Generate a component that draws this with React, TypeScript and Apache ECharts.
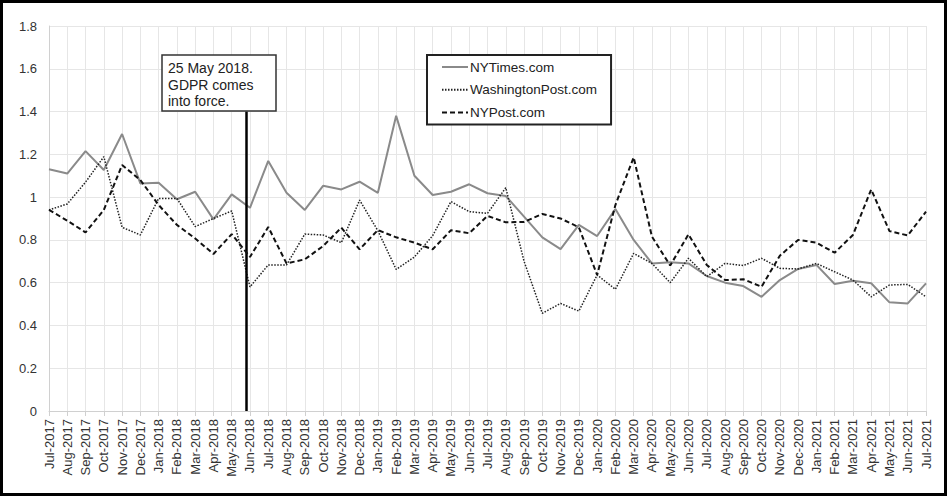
import React, { useEffect, useRef } from "react";
import * as echarts from "echarts";

const months = [
  "Jul-2017","Aug-2017","Sep-2017","Oct-2017","Nov-2017","Dec-2017",
  "Jan-2018","Feb-2018","Mar-2018","Apr-2018","May-2018","Jun-2018","Jul-2018","Aug-2018","Sep-2018","Oct-2018","Nov-2018","Dec-2018",
  "Jan-2019","Feb-2019","Mar-2019","Apr-2019","May-2019","Jun-2019","Jul-2019","Aug-2019","Sep-2019","Oct-2019","Nov-2019","Dec-2019",
  "Jan-2020","Feb-2020","Mar-2020","Apr-2020","May-2020","Jun-2020","Jul-2020","Aug-2020","Sep-2020","Oct-2020","Nov-2020","Dec-2020",
  "Jan-2021","Feb-2021","Mar-2021","Apr-2021","May-2021","Jun-2021","Jul-2021",
];

const nyTimes = [
  1.13, 1.11, 1.215, 1.127, 1.295, 1.064,
  1.067, 0.99, 1.025, 0.896, 1.013, 0.95, 1.169, 1.02, 0.94, 1.053, 1.036, 1.072,
  1.02, 1.38, 1.10, 1.01, 1.025, 1.06, 1.018, 1.005, 0.909, 0.812, 0.757, 0.87,
  0.818, 0.944, 0.80, 0.69, 0.695, 0.69, 0.631, 0.60, 0.584, 0.534, 0.612, 0.664,
  0.683, 0.594, 0.609, 0.597, 0.508, 0.503, 0.597,
];

const washingtonPost = [
  0.94, 0.968, 1.07, 1.189, 0.859, 0.823,
  0.994, 0.994, 0.862, 0.90, 0.935, 0.58, 0.683, 0.683, 0.827, 0.823, 0.787, 0.986,
  0.843, 0.662, 0.72, 0.82, 0.979, 0.932, 0.924, 1.044, 0.70, 0.457, 0.503, 0.467,
  0.636, 0.569, 0.737, 0.69, 0.60, 0.714, 0.628, 0.69, 0.68, 0.714, 0.667, 0.664,
  0.69, 0.651, 0.612, 0.534, 0.589, 0.592, 0.534,
];

const nyPost = [
  0.94, 0.89, 0.835, 0.94, 1.15, 1.08,
  0.963, 0.87, 0.807, 0.734, 0.827, 0.72, 0.86, 0.69, 0.709, 0.771, 0.857, 0.756,
  0.846, 0.812, 0.787, 0.756, 0.845, 0.831, 0.912, 0.882, 0.884, 0.921, 0.90, 0.859,
  0.636, 0.963, 1.186, 0.815, 0.68, 0.826, 0.683, 0.612, 0.616, 0.581, 0.726, 0.80,
  0.787, 0.74, 0.823, 1.036, 0.841, 0.821, 0.932,
];

const seriesNames = ["NYTimes.com", "WashingtonPost.com", "NYPost.com"];
const annotationLines = ["25 May 2018.", "GDPR comes", "into force."];
// 25 May 2018: May-2018 is index 10, plus fraction of month
const gdprIndex = 10 + 24 / 31;
const gdprLineTop = 1.4;

const FONT = "Liberation Sans, Arial, sans-serif";

export default function App() {
  const ref = useRef<HTMLDivElement>(null);
  useEffect(() => {
    document.body.style.margin = "0";
    const chart = echarts.init(ref.current!, null, { renderer: "svg" });
    const boxX = 162, boxY = 55, boxW = 114, boxH = 56;
    chart.setOption({
      animation: false,
      backgroundColor: "#ffffff",
      textStyle: { fontFamily: FONT },
      grid: { left: 49, right: 22, top: 26, bottom: 86 },
      legend: {
        data: seriesNames,
        orient: "vertical",
        left: 427,
        top: 55,
        padding: [5, 14, 5, 14],
        itemWidth: 26,
        itemHeight: 14,
        itemGap: 8.7,
        borderColor: "#222",
        borderWidth: 2,
        backgroundColor: "#fff",
        itemStyle: { opacity: 0, borderWidth: 0 },
        textStyle: { fontSize: 13.5, color: "#222", fontFamily: FONT, padding: [0, 0, 0, -3] },
      },
      xAxis: [
        {
          type: "category",
          data: months,
          boundaryGap: false,
          axisLine: { show: true, lineStyle: { color: "#d0d0d0", width: 1 } },
          axisTick: { show: true, interval: 0, length: 5, lineStyle: { color: "#d0d0d0" } },
          axisLabel: { interval: 0, rotate: 90, fontSize: 13, color: "#333", margin: 8, fontFamily: FONT },
          splitLine: { show: true, interval: 0, lineStyle: { color: "#e6e6e6", width: 1 } },
        },
        {
          type: "value",
          min: 0,
          max: months.length - 1,
          show: false,
        },
      ],
      yAxis: {
        type: "value",
        min: 0,
        max: 1.8,
        interval: 0.2,
        axisLine: { show: true, lineStyle: { color: "#d0d0d0" } },
        axisTick: { show: false },
        axisLabel: { fontSize: 13, color: "#333", margin: 12, fontFamily: FONT },
        splitLine: { show: true, lineStyle: { color: "#e6e6e6", width: 1 } },
      },
      series: [
        {
          name: seriesNames[0],
          type: "line",
          data: nyTimes,
          symbol: "none",
          lineStyle: { color: "#8a8a8a", width: 2, type: "solid" },
          itemStyle: { color: "#8a8a8a" },
          z: 3,
        },
        {
          name: seriesNames[1],
          type: "line",
          data: washingtonPost,
          symbol: "none",
          lineStyle: { color: "#222", width: 1.5, type: [1.5, 1.5] },
          itemStyle: { color: "#222" },
          z: 4,
        },
        {
          name: seriesNames[2],
          type: "line",
          data: nyPost,
          symbol: "none",
          lineStyle: { color: "#111", width: 2, type: [5, 3] },
          itemStyle: { color: "#111" },
          z: 5,
        },
        {
          name: "gdpr",
          type: "line",
          xAxisIndex: 1,
          data: [[gdprIndex, 0]],
          symbol: "none",
          lineStyle: { opacity: 0 },
          silent: true,
          markLine: {
            silent: true,
            symbol: "none",
            label: { show: false },
            lineStyle: { color: "#000", width: 2.5, type: "solid" },
            data: [[{ coord: [gdprIndex, 0] }, { coord: [gdprIndex, gdprLineTop] }]],
          },
          z: 6,
        },
      ],
      graphic: [
        {
          type: "rect",
          shape: { x: 1.5, y: 1.5, width: 944, height: 493 },
          style: { fill: "none", stroke: "#000", lineWidth: 3 },
          silent: true,
          z: 100,
        },
        {
          type: "rect",
          shape: { x: boxX, y: boxY, width: boxW, height: boxH },
          style: { fill: "#ffffff", stroke: "#333", lineWidth: 1.5 },
          silent: true,
          z: 50,
        },
        ...annotationLines.map((t, i) => ({
          type: "text",
          x: boxX + 6,
          y: boxY + 13 + i * 16.5,
          silent: true,
          z: 51,
          style: {
            text: t,
            fontSize: 14,
            fill: "#222",
            fontFamily: FONT,
            verticalAlign: "middle",
            align: "left",
          },
        })),
      ],
    });
    return () => chart.dispose();
  }, []);
  return <div ref={ref} style={{ position: "fixed", left: 0, top: 0, width: 948, height: 497 }} />;
}
